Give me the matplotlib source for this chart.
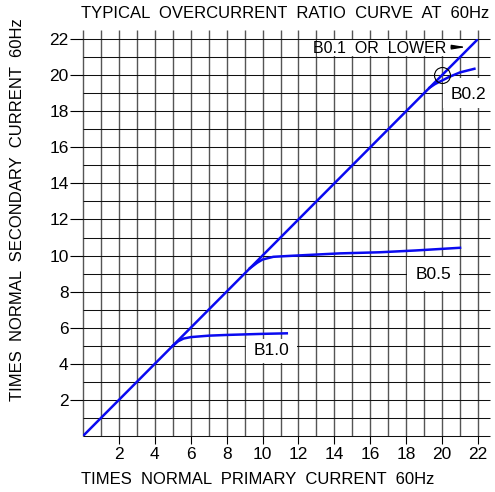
import numpy as np
import matplotlib.pyplot as plt
from matplotlib.patches import Rectangle

plt.rcParams['font.family'] = ['Liberation Sans', 'DejaVu Sans']

# ideal 1:1 line (B0.1 or lower)
diag_x = [0, 22]
diag_y = [0, 22]

# saturation curves
b10_x = [5.0, 5.3, 5.6, 6.0, 7.0, 8.0, 9.0, 10.0, 11.35]
b10_y = [5.0, 5.25, 5.4, 5.48, 5.56, 5.6, 5.63, 5.66, 5.69]

b05_x = [9.3, 9.5, 9.7, 10.0, 10.6, 11.5, 12.5, 14.3, 16.5, 18.5, 21.0]
b05_y = [9.3, 9.45, 9.6, 9.78, 9.93, 9.98, 10.03, 10.12, 10.18, 10.28, 10.43]

b02_x = [19.3, 19.6, 19.9, 20.4, 21.0, 21.8]
b02_y = [19.3, 19.5, 19.65, 19.9, 20.15, 20.35]

ticks = list(range(2, 23, 2))
tick_labels = [str(t) for t in ticks]

fig = plt.figure(figsize=(4.95, 4.92), dpi=100)
ax = fig.add_axes([83/495, 56/492, 395/495, 397/492])
ax.set_xlim(0, 22)
ax.set_ylim(0, 22)
for s in ax.spines.values():
    s.set_visible(False)

# CAD style grid, lines run a little past the top and right edge
grid = np.arange(0, 23)
ax.vlines(grid, 0, 22.5, colors='#555555', lw=1.0, zorder=1, clip_on=False)
ax.hlines(grid, 0, 22.67, colors='#111111', lw=0.75, zorder=1, clip_on=False)

ax.set_xticks(ticks)
ax.set_xticklabels(tick_labels)
ax.set_yticks(ticks)
ax.set_yticklabels(tick_labels)
ax.tick_params(axis='x', length=5.8, width=0.8, pad=2, labelsize=12.5, colors='black')
ax.tick_params(axis='y', length=9.4, width=0.8, pad=1, labelsize=12.5, colors='black')

# white masks behind the labels
for (x0, x1, y0, y1) in [(13.05, 21.97, 21.05, 21.95), (20.03, 22.75, 18.15, 19.85),
                         (18.06, 20.94, 8.06, 9.9), (9.06, 11.94, 4.06, 5.38)]:
    ax.add_patch(Rectangle((x0, y0), x1 - x0, y1 - y0, facecolor='white',
                           edgecolor='none', zorder=2, clip_on=False))

ax.plot(diag_x, diag_y, color='#0a0af0', lw=1.8, zorder=3)
ax.plot(b10_x, b10_y, color='#0a0af0', lw=1.8, zorder=3)
ax.plot(b05_x, b05_y, color='#0a0af0', lw=1.8, zorder=3)
ax.plot(b02_x, b02_y, color='#0a0af0', lw=1.8, zorder=3, clip_on=False)
ax.plot(20, 20, marker='o', ms=11.5, mfc='none', mec='black', mew=0.8, zorder=4)

lab = dict(fontsize=12.5, ha='center', va='center', zorder=4)
ax.text(16.5, 21.45, 'B0.1  OR  LOWER', fontsize=11.5, ha='center', va='center', zorder=4)
ax.annotate('', xy=(21.5, 21.55), xytext=(20.35, 21.55), zorder=4,
            arrowprops=dict(arrowstyle='-|>,head_length=0.8,head_width=0.13',
                            color='black', lw=0.9))
ax.text(21.45, 18.9, 'B0.2', **lab)
ax.text(19.5, 8.95, 'B0.5', **lab)
ax.text(10.5, 4.75, 'B1.0', **lab)

fig.text(285/495, 1 - 13/492, 'TYPICAL  OVERCURRENT  RATIO  CURVE  AT  60Hz',
         fontsize=12, ha='center', va='center')
fig.text(258/495, 1 - 479/492, 'TIMES  NORMAL  PRIMARY  CURRENT  60Hz',
         fontsize=12, ha='center', va='center')
fig.text(18/495, 1 - 210/492, 'TIMES  NORMAL  SECONDARY  CURRENT  60Hz',
         fontsize=12, ha='center', va='center', rotation=90)

fig.savefig('out.png', dpi=100)
